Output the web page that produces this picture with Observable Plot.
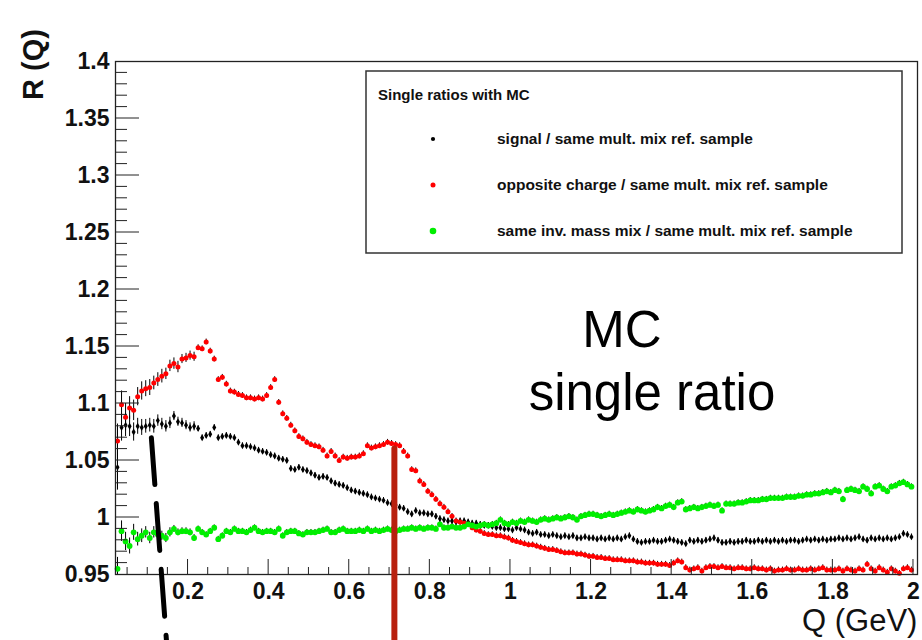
<!DOCTYPE html>
<html><head><meta charset="utf-8">
<script src="https://cdn.jsdelivr.net/npm/d3@7"></script>
<script src="https://cdn.jsdelivr.net/npm/@observablehq/plot@0.6"></script>
<style>html,body{margin:0;padding:0;background:#fff;overflow:hidden}#chart{width:922px;height:640px}</style>
</head><body><div id="chart"></div>
<script>
// Bin layout of the histograms (bin centre of first bin, bin width)
const qStart = 0.025, qStep = 0.01;

// signal / same mult. mix ref. sample
const signal = [
1.044,1.079,1.081,1.080,1.075,1.080,1.079,1.080,1.081,1.080,
1.085,1.082,1.080,1.083,1.089,1.084,1.083,1.081,1.079,1.080,
1.078,1.070,1.072,1.073,1.079,1.070,1.071,1.072,1.071,1.070,
1.066,1.063,1.063,1.062,1.061,1.059,1.058,1.057,1.055,1.054,
1.052,1.051,1.050,1.043,1.042,1.044,1.042,1.041,1.039,1.037,
1.035,1.036,1.035,1.032,1.030,1.029,1.028,1.026,1.024,1.023,
1.022,1.021,1.020,1.018,1.017,1.016,1.015,1.013,1.012,1.011,
1.009,1.008,1.005,1.003,1.006,1.004,1.004,1.003,1.003,1.001,
0.999,0.998,0.997,0.997,0.996,0.997,0.997,0.996,0.995,0.995,
0.994,0.993,0.993,0.992,0.991,0.991,0.990,0.990,
0.989,0.991,0.990,0.989,0.987,0.986,0.987,0.985,0.985,0.984,
0.985,0.984,0.983,0.984,0.983,0.984,0.982,0.982,0.983,0.982,
0.982,0.981,0.982,0.981,0.982,0.981,0.982,0.981,0.983,0.984,
0.981,0.979,0.978,0.979,0.979,0.980,0.979,0.979,0.980,0.981,
0.980,0.979,0.978,0.977,0.980,0.979,0.980,0.979,0.980,0.981,
0.982,0.980,0.978,0.978,0.979,0.978,0.979,0.979,0.980,0.979,
0.979,0.980,0.979,0.980,0.979,0.980,0.979,0.980,0.979,0.980,
0.980,0.979,0.980,0.981,0.980,0.981,0.980,0.981,0.980,0.981,
0.981,0.982,0.981,0.982,0.981,0.982,0.983,0.981,0.980,0.982,
0.981,0.982,0.981,0.982,0.981,0.982,0.983,0.986,0.985,0.983];

// opposite charge / same mult. mix ref. sample
const opposite = [
1.067,1.099,1.088,1.096,1.094,1.106,1.111,1.113,1.114,1.118,
1.121,1.124,1.126,1.133,1.135,1.132,1.139,1.140,1.142,1.141,
1.149,1.148,1.154,1.146,1.139,1.121,1.123,1.117,1.111,1.110,
1.108,1.107,1.105,1.105,1.104,1.105,1.104,1.107,1.114,1.121,
1.101,1.091,1.087,1.081,1.076,1.071,1.069,1.066,1.064,1.063,
1.062,1.059,1.054,1.058,1.054,1.050,1.053,1.052,1.053,1.053,
1.054,1.056,1.063,1.061,1.062,1.063,1.064,1.066,1.065,1.064,
1.063,1.058,1.054,1.042,1.041,1.032,1.029,1.023,1.020,1.016,
1.012,1.009,1.005,1.001,0.997,0.996,0.995,0.994,0.991,0.989,
0.988,0.986,0.985,0.985,0.984,0.984,0.983,0.982,
0.980,0.979,0.978,0.977,0.976,0.976,0.975,0.974,0.973,0.972,
0.972,0.971,0.970,0.969,0.969,0.969,0.968,0.968,0.967,0.966,
0.966,0.965,0.965,0.964,0.964,0.963,0.963,0.963,0.962,0.962,
0.962,0.961,0.961,0.960,0.960,0.960,0.959,0.959,0.959,0.958,
0.960,0.962,0.961,0.956,0.954,0.955,0.956,0.953,0.956,0.957,
0.957,0.956,0.957,0.956,0.956,0.955,0.956,0.956,0.955,0.955,
0.956,0.955,0.955,0.954,0.955,0.953,0.954,0.954,0.955,0.954,
0.954,0.955,0.954,0.954,0.955,0.954,0.955,0.956,0.954,0.954,
0.954,0.955,0.953,0.955,0.954,0.953,0.955,0.954,0.959,0.955,
0.953,0.956,0.954,0.952,0.955,0.953,0.951,0.955,0.956,0.954];

// same inv. mass mix / same mult. mix ref. sample
const invMass = [
0.955,0.988,0.979,0.975,0.987,0.981,0.984,0.987,0.982,0.987,
0.985,0.984,0.982,0.987,0.990,0.987,0.988,0.988,0.987,0.982,
0.990,0.987,0.985,0.988,0.991,0.981,0.984,0.988,0.987,0.990,
0.988,0.988,0.987,0.989,0.991,0.988,0.987,0.988,0.988,0.987,
0.990,0.984,0.987,0.988,0.988,0.986,0.985,0.987,0.987,0.987,
0.988,0.989,0.990,0.987,0.987,0.989,0.990,0.988,0.988,0.988,
0.989,0.988,0.990,0.988,0.989,0.988,0.989,0.990,0.989,0.988,
0.989,0.990,0.990,0.991,0.990,0.991,0.990,0.991,0.991,0.990,
0.994,0.991,0.991,0.992,0.991,0.991,0.992,0.994,0.993,0.992,
0.993,0.994,0.993,0.994,0.995,0.998,0.995,0.994,
0.996,0.995,0.997,0.996,0.998,0.997,0.996,0.998,0.999,0.998,
0.999,1.000,0.999,1.000,1.001,1.000,0.998,1.001,1.002,1.003,
1.003,1.002,1.001,1.002,1.003,1.002,1.003,1.004,1.005,1.006,
1.005,1.007,1.006,1.005,1.006,1.007,1.009,1.008,1.010,1.011,
1.009,1.013,1.014,1.007,1.008,1.009,1.008,1.009,1.010,1.011,
1.010,1.011,1.006,1.012,1.012,1.012,1.013,1.013,1.014,1.015,
1.015,1.015,1.016,1.016,1.017,1.017,1.017,1.017,1.018,1.018,
1.018,1.019,1.019,1.020,1.020,1.021,1.021,1.022,1.023,1.022,
1.024,1.023,1.016,1.024,1.025,1.024,1.023,1.027,1.025,1.021,
1.027,1.028,1.025,1.023,1.027,1.028,1.030,1.031,1.029,1.027];

// statistical errors of the first bins, and of the remaining bins
const errSignal   = [0.020,0.012,0.010,0.009,0.008,0.007,0.007,0.006,0.006,0.006,0.005,0.005,0.005,0.005,0.004,0.004,0.004,0.004,0.004,0.004];
const errOpposite = [0.015,0.012,0.012,0.010,0.009,0.008,0.008,0.007,0.007,0.006,0.006,0.006,0.005,0.005,0.005,0.005,0.004,0.004,0.004,0.004];
const errInvMass  = [0.010,0.009,0.008,0.007,0.007,0.006,0.006,0.005,0.005,0.005,0.004,0.004,0.004,0.004,0.003,0.003,0.003,0.003,0.003,0.003];
const errTail = 0.0025;

const seriesNames = [
  "signal / same mult. mix ref. sample",
  "opposite charge / same mult. mix ref. sample",
  "same inv. mass mix / same mult. mix ref. sample"];
const seriesColors = ["#000000", "#ff0000", "#00ee00"];
const legendTitle = "Single ratios with MC";

const yTicks = [0.95, 1, 1.05, 1.1, 1.15, 1.2, 1.25, 1.3, 1.35, 1.4];
const xTicks = [0.2, 0.4, 0.6, 0.8, 1, 1.2, 1.4, 1.6, 1.8, 2];
const xDomain = [0.02, 2.01], yDomain = [0.95, 1.4];

// annotation lines drawn over the chart (data units)
const redMarker = [{q: 0.712, v: 1.0605}, {q: 0.712, v: 0.87}];
const dashMarker = [{q: 0.109, v: 1.070}, {q: 0.150, v: 0.875}];
const annotation = ["MC", "single ratio"];

function rowsOf(vals, errs, k) {
  return vals.map((v, i) => ({s: k, q: qStart + qStep * i, v, e: errs[i] !== undefined ? errs[i] : errTail}));
}
const rowsS = rowsOf(signal, errSignal, 0);
const rowsO = rowsOf(opposite, errOpposite, 1);
const rowsI = rowsOf(invMass, errInvMass, 2);
const allRows = rowsS.concat(rowsO, rowsI);

const FONT = "'Liberation Sans', Arial, Helvetica, sans-serif";
const fmt = d => String(+d.toFixed(2));

const plot = Plot.plot({
  width: 922, height: 640,
  marginLeft: 115, marginRight: 5, marginTop: 61, marginBottom: 66,
  x: {domain: xDomain},
  y: {domain: yDomain},
  style: {fontFamily: FONT, background: "white", overflow: "visible"},
  marks: [
    Plot.ruleX(allRows, {x: "q", y1: d => Math.max(yDomain[0], d.v - d.e), y2: d => d.v + d.e, stroke: "black", strokeWidth: 1}),
    Plot.dot(rowsS, {x: "q", y: "v", r: 2.1, symbol: "diamond", fill: seriesColors[0]}),
    Plot.dot(rowsO, {x: "q", y: "v", r: 2.5, fill: seriesColors[1]}),
    Plot.dot(rowsI, {x: "q", y: "v", r: 2.9, fill: seriesColors[2]}),
    Plot.frame({stroke: "#222", strokeWidth: 1.3}),
    Plot.axisY(yTicks, {anchor: "left", tickSize: 0, tickPadding: 6, tickFormat: fmt, fontSize: 23, fontWeight: "bold", fill: "#111", label: null}),
    Plot.axisX(xTicks, {anchor: "bottom", tickSize: 0, tickPadding: 8, tickFormat: fmt, fontSize: 23, fontWeight: "bold", fill: "#111", label: null}),
    Plot.line(redMarker, {x: "q", y: "v", stroke: "#b8200e", strokeWidth: 6}),
    Plot.line(dashMarker, {x: "q", y: "v", stroke: "black", strokeWidth: 5, strokeDasharray: "47,19"})
  ]
});
document.getElementById("chart").appendChild(plot);

// minor/major ticks inside the frame, placed with the plot's scales
const xs = plot.scale("x"), ys = plot.scale("y");
const svg = d3.select(plot);
const g = svg.append("g").attr("stroke", "#222").attr("stroke-width", 1);
const x0 = xs.apply(xDomain[0]), yb = ys.apply(yDomain[0]);
const yMinor = d3.range(96, 140).map(k => k / 100);
yMinor.forEach(v => {
  const major = yTicks.some(t => Math.abs(t - v) < 1e-9);
  const y = ys.apply(v);
  g.append("line").attr("x1", x0).attr("x2", x0 + (major ? 24 : 12)).attr("y1", y).attr("y2", y);
});
const xMinor = d3.range(1, 41).map(k => k * 0.05);
xMinor.forEach(q => {
  const major = xTicks.some(t => Math.abs(t - q) < 1e-9);
  const x = xs.apply(q);
  g.append("line").attr("x1", x).attr("x2", x).attr("y1", yb).attr("y2", yb - (major ? 15 : 7));
});

// axis titles
svg.append("text").attr("transform", "translate(43,100) rotate(-90)").attr("text-anchor", "start")
  .attr("font-size", 29).attr("font-weight", "bold").attr("fill", "#111").attr("font-family", FONT).text("R (Q)");
svg.append("text").attr("x", 802).attr("y", 631).attr("text-anchor", "start")
  .attr("font-size", 31).attr("fill", "#111").attr("font-family", FONT).text("Q (GeV)");

// big annotation text
const annX = [622, 652];
annotation.forEach((t, i) => {
  svg.append("text").attr("x", annX[i]).attr("y", 347 + i * 63).attr("text-anchor", "middle")
    .attr("font-size", 51).attr("fill", "#000").attr("font-family", FONT).text(t);
});

// legend box
const lg = svg.append("g").attr("font-family", FONT).attr("text-anchor", "start");
lg.append("rect").attr("x", 366).attr("y", 71).attr("width", 536).attr("height", 182)
  .attr("fill", "white").attr("stroke", "#333").attr("stroke-width", 1.5);
lg.append("text").attr("x", 378).attr("y", 100).attr("text-anchor", "start").attr("font-size", 15).attr("font-weight", "bold").attr("fill", "#111").text(legendTitle);
const legendR = [2.1, 2.5, 3.3];
seriesNames.forEach((name, i) => {
  const cy = 139 + i * 46;
  lg.append("circle").attr("cx", 433).attr("cy", cy).attr("r", legendR[i]).attr("fill", seriesColors[i]);
  lg.append("text").attr("x", 497).attr("y", cy + 5).attr("text-anchor", "start").attr("font-size", 15.5).attr("font-weight", "bold").attr("fill", "#111").text(name);
});
</script>
</body></html>
